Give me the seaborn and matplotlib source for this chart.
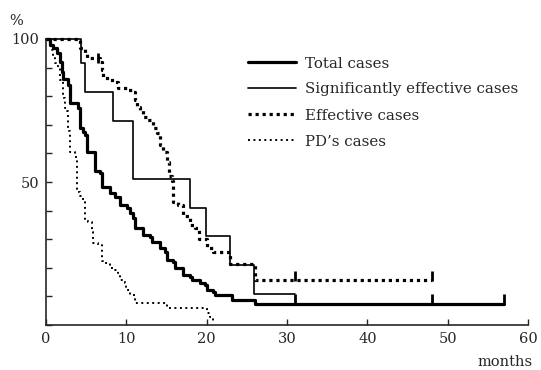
import seaborn as sns
import matplotlib.pyplot as plt

# survival steps (months, %)
total_t = [0, 0.5, 0.9, 1.4, 1.7, 2.0, 2.1, 2.7, 3.0, 4.0, 4.2, 4.6, 4.9, 5.1, 6.1, 6.7, 7.0,
           8.0, 8.6, 9.2, 10.1, 10.5, 10.8, 11.1, 12.1, 13.0, 13.2, 14.2, 14.8, 15.1, 15.8,
           16.1, 17.1, 17.9, 18.2, 19.2, 19.8, 20.0, 20.8, 21.0, 23.2, 26.0, 57.0]
total_s = [100, 98, 97, 95, 92, 88.5, 86, 84, 77.5, 76, 69, 67.5, 66.5, 60.5, 54, 53, 48.3,
           46.2, 44.8, 42, 41, 39.2, 37.4, 34, 31.5, 30.8, 29, 27, 25.5, 22.7, 22,
           20, 17.5, 16.8, 15.7, 14.7, 14, 12.2, 11.5, 10.5, 8.7, 7.5, 7.5]

sig_t = [0, 4.4, 4.9, 8.3, 10.8, 17.9, 19.9, 22.9, 25.9, 31.0]
sig_s = [100, 91.5, 81.5, 71.5, 51, 41, 31, 21, 11, 11]

eff_t = [0, 4.2, 4.9, 5.1, 6.7, 7.0, 7.1, 8.0, 8.6, 9.0, 10.1, 10.8, 11.1, 11.3, 11.7, 12.1,
         12.6, 13.3, 13.8, 14.2, 14.6, 15.1, 15.3, 15.7, 15.8, 16.4, 17.1, 17.9, 18.6, 19.0,
         20.0, 20.8, 22.9, 26.0, 48.0]
eff_s = [100, 97, 95, 93.3, 92, 89, 86.4, 85.7, 85, 83, 82.2, 81.5, 78.7, 76.2, 75.2, 72.7,
         71.7, 69, 67, 63, 60.5, 57, 52, 50.5, 43, 42, 38, 35, 34, 30,
         27, 25.5, 21.5, 15.7, 15.7]

pd_t = [0, 0.5, 0.7, 0.9, 1.1, 1.5, 1.7, 2.1, 2.4, 2.6, 2.7, 3.0, 3.6, 3.9, 4.2, 4.6, 4.9,
        5.2, 5.7, 5.9, 6.5, 7.0, 7.3, 8.0, 8.6, 9.0, 9.2, 9.8, 10.0, 10.5, 11.1, 15.1,
        20.0, 20.4, 20.8]
pd_s = [100, 98.5, 96, 93.5, 91.5, 90, 85.5, 79.5, 76, 75, 68, 60.5, 58.7, 46.5, 45, 43, 37,
        36, 32.5, 28.7, 28, 22.5, 21.7, 20, 19.2, 18.2, 15.7, 14.7, 12.2, 10.5, 7.7, 5.9,
        4.2, 2.8, 1.5]

# censored cases
total_cens_t = [31.0, 48.0, 57.0]
total_cens_s = [7.5, 7.5, 7.5]
eff_cens_t = [6.5, 31.0, 48.0]
eff_cens_s = [92, 15.7, 15.7]

labels = ["Total cases", "Significantly effective cases", "Effective cases", "PD\u2019s cases"]

sns.set_style("ticks")
plt.rcParams['font.family'] = ['DejaVu Serif']

fig = plt.figure(figsize=(5.41, 3.70), dpi=100)
ax = fig.add_axes([46 / 541, 1 - 325 / 370, (528 - 46) / 541, (325 - 39) / 370])

common = dict(ax=ax, color='black', drawstyle='steps-post', estimator=None, sort=False)
sns.lineplot(x=total_t, y=total_s, lw=2.3, label=labels[0], **common)
sns.lineplot(x=sig_t, y=sig_s, lw=1.2, label=labels[1], **common)
sns.lineplot(x=eff_t, y=eff_s, lw=2.3, ls=(0, (1, 1.2)), label=labels[2], **common)
sns.lineplot(x=pd_t, y=pd_s, lw=1.4, ls=(0, (1, 1.8)), label=labels[3], **common)

# censor ticks
sns.scatterplot(x=total_cens_t, y=[v + 1.5 for v in total_cens_s], ax=ax, marker='|',
                s=50, color='black', linewidth=2, legend=False)
sns.scatterplot(x=eff_cens_t, y=[v + 1.5 for v in eff_cens_s], ax=ax, marker='|',
                s=50, color='black', linewidth=2, legend=False)

for line in ax.lines:
    line.set_clip_on(False)

ax.set_xlim(0, 60)
ax.set_ylim(0, 100)
ax.set_xticks(range(0, 61, 10))
ax.set_yticks(range(0, 101, 10))
ax.set_yticklabels(['50' if v == 50 else '100' if v == 100 else '' for v in range(0, 101, 10)])
ax.tick_params(direction='in', length=4, width=1, labelsize=10.5, pad=5)
ax.set_xlabel('')
ax.set_ylabel('')
sns.despine(ax=ax)
for sp in ax.spines.values():
    sp.set_linewidth(1.2)

fig.text(533 / 541, 0.01, 'months', ha='right', va='baseline', fontsize=10.5)
fig.text(9 / 541, 1 - 25 / 370, '%', ha='left', va='baseline', fontsize=10.5)

ax.legend(loc='upper left', bbox_to_anchor=(248 / 541, 1 - 56.5 / 370),
          bbox_transform=fig.transFigure, frameon=False, fontsize=10.8,
          handlelength=3.2, handletextpad=0.6, labelspacing=0.8,
          borderpad=0, borderaxespad=0)

fig.savefig('out.png', dpi=100)
